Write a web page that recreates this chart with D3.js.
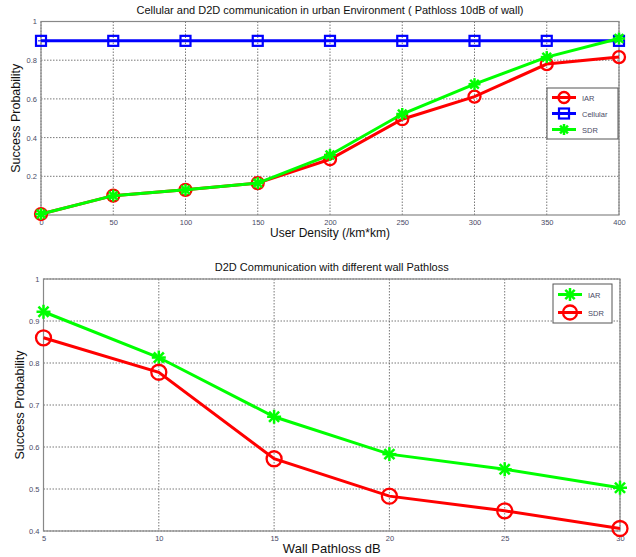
<!DOCTYPE html>
<html>
<head>
<meta charset="utf-8">
<script src="https://cdn.jsdelivr.net/npm/d3@7"></script>
<style>
body { margin: 0; background: #fff; }
svg { font-family: "Liberation Sans", Arial, sans-serif; }
</style>
</head>
<body>
<div id="chart"></div>
<script>
// top chart data
var density = [0, 50, 100, 150, 200, 250, 300, 350, 400];
var iar_top = [0.005, 0.1, 0.13, 0.165, 0.288, 0.495, 0.612, 0.78, 0.816];
var cellular_top = [0.9, 0.9, 0.9, 0.9, 0.9, 0.9, 0.9, 0.9, 0.9];
var sdr_top = [0.005, 0.1, 0.13, 0.165, 0.31, 0.522, 0.676, 0.816, 0.912];
var top_yticks = [0.2, 0.4, 0.6, 0.8, 1];

// bottom chart data
var wall_loss = [5, 10, 15, 20, 25, 30];
var iar_bottom = [0.922, 0.813, 0.672, 0.583, 0.547, 0.503];
var sdr_bottom = [0.86, 0.778, 0.572, 0.483, 0.448, 0.406];
var bottom_yticks = [0.4, 0.5, 0.6, 0.7, 0.8, 0.9, 1];

var width = 636, height = 557;
var red = "#ff0000", green = "#00ff00", blue = "#0000ff";

var svg = d3.select("#chart").append("svg")
    .attr("width", width)
    .attr("height", height);

function drawMarker(g, type, x, y, color, size) {
    if (type == "circle") {
        g.append("circle").attr("cx", x).attr("cy", y).attr("r", size)
            .style("fill", "none").style("stroke", color).style("stroke-width", 2.3);
    } else if (type == "square") {
        g.append("rect").attr("x", x - size).attr("y", y - size).attr("width", size * 2).attr("height", size * 2)
            .style("fill", "none").style("stroke", color).style("stroke-width", 2.2);
        g.append("line").attr("x1", x - size * 0.6).attr("x2", x + size * 0.6).attr("y1", y).attr("y2", y)
            .style("stroke", color).style("stroke-width", 1);
    } else {
        var s = size, d = s * 0.72;
        var segs = [[-s, 0, s, 0], [0, -s, 0, s], [-d, -d, d, d], [-d, d, d, -d]];
        segs.forEach(function(p) {
            g.append("line").attr("x1", x + p[0]).attr("y1", y + p[1])
                .attr("x2", x + p[2]).attr("y2", y + p[3])
                .style("stroke", color).style("stroke-width", 2.5);
        });
    }
}

function drawPanel(opt) {
    var x = d3.scaleLinear().domain(opt.xdomain).range([opt.left, opt.right]);
    var y = d3.scaleLinear().domain(opt.ydomain).range([opt.bottom, opt.top]);
    var g = svg.append("g");

    // grid
    g.selectAll(".vgrid").data(opt.xticks).enter().append("line")
        .attr("x1", function(d) { return x(d); }).attr("x2", function(d) { return x(d); })
        .attr("y1", opt.top).attr("y2", opt.bottom)
        .style("stroke", "#555").style("stroke-width", 0.8).style("stroke-dasharray", "1.5,1.5");
    g.selectAll(".hgrid").data(opt.yticks).enter().append("line")
        .attr("x1", opt.left).attr("x2", opt.right)
        .attr("y1", function(d) { return y(d); }).attr("y2", function(d) { return y(d); })
        .style("stroke", "#555").style("stroke-width", 0.8).style("stroke-dasharray", "1.5,1.5");

    // box
    g.append("rect").attr("x", opt.left).attr("y", opt.top)
        .attr("width", opt.right - opt.left).attr("height", opt.bottom - opt.top)
        .style("fill", "none").style("stroke", "#888").style("stroke-width", 1.2);

    // axes
    var xAxis = d3.axisBottom(x).tickValues(opt.xticks).tickSize(0).tickPadding(5)
        .tickFormat(function(d) { return d; });
    var yAxis = d3.axisLeft(y).tickValues(opt.yticks).tickSize(0).tickPadding(4)
        .tickFormat(function(d) { return d; });
    var xa = g.append("g").attr("transform", "translate(0," + opt.bottom + ")").call(xAxis);
    var ya = g.append("g").attr("transform", "translate(" + opt.left + ",0)").call(yAxis);
    [xa, ya].forEach(function(a) {
        a.select(".domain").remove();
        a.selectAll("text").style("font-size", "7.5px").style("fill", "#4a4a66")
            .style("font-family", "Liberation Sans, Arial, sans-serif");
    });

    // series
    var line = d3.line()
        .x(function(d) { return x(d[0]); })
        .y(function(d) { return y(d[1]); });
    opt.series.forEach(function(s) {
        var pts = opt.xs.map(function(v, i) { return [v, s.values[i]]; });
        g.append("path").datum(pts).attr("d", line)
            .style("fill", "none").style("stroke", s.color).style("stroke-width", 3);
        pts.forEach(function(p) { drawMarker(g, s.marker, x(p[0]), y(p[1]), s.color, opt.msize[s.marker]); });
    });

    // labels
    g.append("text").attr("x", (opt.left + opt.right) / 2).attr("y", opt.top - 8)
        .attr("text-anchor", "middle").style("font-size", "11px").style("fill", "#111")
        .text(opt.title);
    g.append("text").attr("x", (opt.left + opt.right) / 2).attr("y", opt.xlabelY)
        .attr("text-anchor", "middle").style("font-size", opt.xlabelSize).style("fill", "#111")
        .text(opt.xlabel);
    g.append("text").attr("transform", "translate(" + opt.ylabelX + "," + (opt.top + opt.bottom) / 2 + ") rotate(-90)")
        .attr("text-anchor", "middle").style("font-size", "12.5px").style("fill", "#111")
        .text("Success Probability");

    // legend
    var lg = g.append("g");
    var L = opt.legend;
    lg.append("rect").attr("x", L.x).attr("y", L.y).attr("width", L.w).attr("height", L.h)
        .style("fill", "#fff").style("stroke", "#555").style("stroke-width", 1);
    L.items.forEach(function(s, i) {
        var yy = L.y + L.first + i * L.step;
        lg.append("line").attr("x1", L.x + 5).attr("x2", L.x + 29).attr("y1", yy).attr("y2", yy)
            .style("stroke", s.color).style("stroke-width", 3);
        drawMarker(lg, s.marker, L.x + 17, yy, s.color, L.msize[s.marker]);
        lg.append("text").attr("x", L.x + 35).attr("y", yy + 3).style("font-size", "7.5px")
            .style("fill", "#4a4a66").text(s.name);
    });
}

var iarS = { name: "IAR", color: red, marker: "circle", values: iar_top };
var cellS = { name: "Cellular", color: blue, marker: "square", values: cellular_top };
var sdrS = { name: "SDR", color: green, marker: "star", values: sdr_top };

drawPanel({
    xs: density, xdomain: [0, 400], ydomain: [0, 1],
    left: 41, right: 619, top: 21.5, bottom: 215,
    xticks: density, yticks: top_yticks,
    series: [iarS, cellS, sdrS],
    msize: { circle: 6, square: 5, star: 6 },
    title: "Cellular and D2D communication in urban Environment ( Pathloss 10dB of wall)",
    xlabel: "User Density (/km*km)", xlabelY: 237, xlabelSize: "12px", ylabelX: 20,
    legend: { x: 547, y: 88, w: 71, h: 51, first: 9.5, step: 16, items: [iarS, cellS, sdrS],
              msize: { circle: 5.5, square: 5, star: 5.5 } }
});

var iarB = { name: "IAR", color: green, marker: "star", values: iar_bottom };
var sdrB = { name: "SDR", color: red, marker: "circle", values: sdr_bottom };

drawPanel({
    xs: wall_loss, xdomain: [5, 30], ydomain: [0.4, 1],
    left: 43.5, right: 620, top: 279, bottom: 531,
    xticks: wall_loss, yticks: bottom_yticks,
    series: [iarB, sdrB],
    msize: { circle: 7.5, square: 6, star: 7 },
    title: "D2D Communication with different wall Pathloss",
    xlabel: "Wall Pathloss dB", xlabelY: 553, xlabelSize: "13px", ylabelX: 24,
    legend: { x: 553, y: 284, w: 59, h: 39, first: 10.5, step: 18, items: [iarB, sdrB],
              msize: { circle: 7, square: 6, star: 6.5 } }
});
</script>
</body>
</html>
